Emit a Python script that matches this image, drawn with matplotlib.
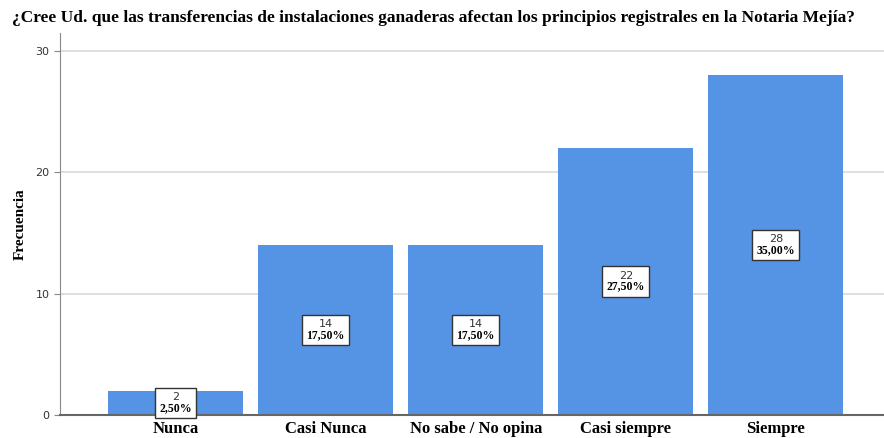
import matplotlib.pyplot as plt
from matplotlib.offsetbox import AnnotationBbox, TextArea, VPacker

categories = ["Nunca", "Casi Nunca", "No sabe / No opina", "Casi siempre", "Siempre"]
counts = [2, 14, 14, 22, 28]
percents = ["2,50%", "17,50%", "17,50%", "27,50%", "35,00%"]

serif = ["Liberation Serif", "DejaVu Serif"]

fig = plt.figure(figsize=(8.84, 4.38), dpi=100)
ax = fig.add_axes([60 / 884, 23 / 438, 1 - 60 / 884, (415 - 33) / 438])

x = list(range(len(categories)))
ax.bar(x, counts, width=0.9, color="#5594e4", zorder=2)

# count + percentage boxes at mid-height
for xi, c, p in zip(x, counts, percents):
    top = TextArea(str(c), textprops=dict(fontsize=8, family="DejaVu Sans", color="#333333"))
    bottom = TextArea(p, textprops=dict(fontsize=8.5, family=serif, weight="bold", color="black"))
    pack = VPacker(children=[top, bottom], align="center", pad=0, sep=0)
    box = AnnotationBbox(pack, (xi, c / 2), frameon=True, pad=0.05, zorder=4,
                         bboxprops=dict(boxstyle="square", fc="white", ec="#333333", lw=1))
    ax.add_artist(box)

ax.set_xlim(-0.77, 4.72)
ax.set_ylim(0, 31.5)
ax.set_yticks([0, 10, 20, 30])
ax.yaxis.grid(True, color="#d9d9d9", lw=1.2, zorder=0)
ax.set_xticks(x)
ax.set_xticklabels(categories, family=serif, weight="bold", fontsize=12)
ax.tick_params(axis="x", length=0, pad=4.5)
ax.tick_params(axis="y", labelsize=8, colors="#333333", length=4, color="#888888")
for lab in ax.get_yticklabels():
    lab.set_family("DejaVu Sans")

for side in ["top", "right"]:
    ax.spines[side].set_visible(False)
ax.spines["left"].set_color("#888888")
ax.spines["bottom"].set_color("#666666")
ax.spines["bottom"].set_linewidth(1.5)

ax.set_ylabel("Frecuencia", family=serif, weight="bold", fontsize=11, labelpad=6)
fig.text(12 / 884, 1 - 18 / 438,
         "¿Cree Ud. que las transferencias de instalaciones ganaderas afectan los principios registrales en la Notaria Mejía?",
         family=serif, weight="bold", fontsize=12.5, va="center", ha="left")

fig.savefig("out.png", dpi=100)
